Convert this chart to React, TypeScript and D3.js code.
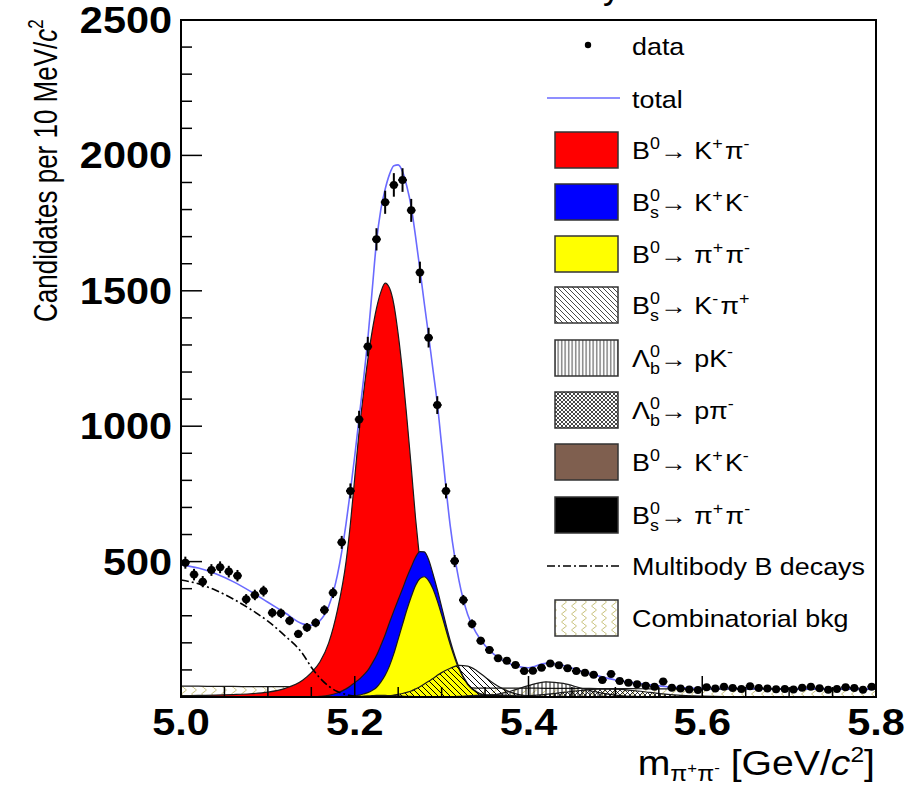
import React from 'react';
import * as d3 from 'd3';

const W = 919;
const H = 787;

// histogram: 10 MeV bins from 5.0 GeV
const binStart = 5.0;
const binWidth = 0.01;
const dataCounts = [
  496, 452, 426, 469, 479, 463, 448, 361, 377, 391,
  311, 309, 282, 233, 257, 274, 321, 385, 571, 761,
  1025, 1294, 1690, 1827, 1891, 1909, 1797, 1568, 1327, 1078,
  761, 502, 358, 270, 208, 174, 143, 134, 118, 96,
  97, 108, 124, 117, 106, 96, 90, 82, 63, 85,
  59, 53, 47, 42, 38, 57, 34, 31, 28, 26,
  36, 31, 38, 33, 30, 40, 33, 31, 29, 30,
  28, 34, 38, 32, 27, 30, 36, 33, 27, 38,
];

// mass points where the fit curves were read
const curveMass = [
  5.0, 5.02, 5.04, 5.06, 5.08, 5.1, 5.12, 5.14, 5.15, 5.16, 5.17, 5.18, 5.19,
  5.195, 5.2, 5.205, 5.21, 5.215, 5.22, 5.225, 5.23, 5.235, 5.24, 5.245, 5.25,
  5.255, 5.26, 5.265, 5.27, 5.275, 5.28, 5.285, 5.29, 5.295, 5.3,
  5.31, 5.32, 5.33, 5.34, 5.35, 5.36, 5.37, 5.38,
  5.4, 5.42, 5.44, 5.46, 5.48, 5.5, 5.52, 5.54, 5.56,
  5.6, 5.65, 5.7, 5.75, 5.8,
];
const totalFit = [
  488, 476, 455, 426, 390, 350, 310, 270, 265, 282, 335, 450, 640,
  761, 890, 1030, 1170, 1320, 1500, 1680, 1800, 1875, 1930, 1962, 1965, 1940, 1885, 1810, 1700, 1580, 1455, 1335, 1210, 1085, 930,
  630, 430, 305, 236, 190, 158, 136, 121,
  108, 124, 116, 96, 78, 63, 53, 45, 38,
  32, 31, 30, 30, 30,
];
const bKpi = [
  5, 6, 7, 9, 12, 18, 32, 62, 90, 130, 200, 320, 500,
  640, 810, 980, 1120, 1245, 1350, 1435, 1495, 1528, 1510, 1450, 1340, 1200, 1030, 850, 660, 500, 370, 265, 180, 118, 75,
  28, 9, 3, 1, 0, 0, 0, 0,
  0, 0, 0, 0, 0, 0, 0, 0, 0,
  0, 0, 0, 0, 0,
];
const bsKK = [
  0, 0, 0, 0, 0, 0, 0, 0, 0, 2, 6, 14, 28,
  38, 48, 58, 70, 82, 100, 118, 135, 150, 160, 158, 145, 132, 120, 110, 104, 100, 92, 78, 55, 42, 30,
  14, 6, 3, 1, 0, 0, 0, 0,
  0, 0, 0, 0, 0, 0, 0, 0, 0,
  0, 0, 0, 0, 0,
];
const bPiPi = [
  0, 0, 0, 0, 0, 0, 0, 0, 0, 0, 0, 1, 2,
  3, 5, 7, 11, 16, 24, 35, 55, 80, 115, 160, 214, 268, 322, 370, 412, 437, 444, 430, 400, 355, 303,
  193, 103, 46, 18, 6, 2, 1, 0,
  0, 0, 0, 0, 0, 0, 0, 0, 0,
  0, 0, 0, 0, 0,
];
const bsKpi = [
  0, 0, 0, 0, 0, 0, 0, 0, 0, 0, 0, 0, 0,
  0, 0, 0, 0, 0, 0, 0, 2, 3, 5, 7, 10, 13, 17, 22, 30, 38, 48, 58, 68, 80, 90,
  106, 117, 114, 98, 74, 50, 31, 17,
  4, 1, 0, 0, 0, 0, 0, 0, 0,
  0, 0, 0, 0, 0,
];
const lbPK = [
  0, 0, 0, 0, 0, 0, 0, 0, 0, 0, 0, 0, 0,
  0, 0, 0, 0, 0, 0, 0, 0, 0, 0, 0, 0, 0, 0, 0, 0, 0, 0, 0, 0, 0, 0,
  0, 0, 1, 2, 4, 8, 14, 22,
  42, 56, 50, 33, 17, 7, 2, 1, 0,
  0, 0, 0, 0, 0,
];
const lbPpi = [
  0, 0, 0, 0, 0, 0, 0, 0, 0, 0, 0, 0, 0,
  0, 0, 0, 0, 0, 0, 0, 0, 0, 0, 0, 0, 0, 0, 0, 0, 0, 0, 0, 0, 0, 0,
  0, 0, 0, 0, 0, 0, 0, 2,
  5, 10, 17, 24, 29, 29, 24, 17, 10,
  3, 0, 0, 0, 0,
];
const b0KK = [
  0, 0, 0, 0, 0, 0, 0, 0, 0, 0, 0, 0, 0,
  0, 1, 2, 3, 4, 5, 6, 6, 6, 5, 5, 4, 3, 2, 2, 1, 1, 0, 0, 0, 0, 0,
  0, 0, 0, 0, 0, 0, 0, 0,
  0, 0, 0, 0, 0, 0, 0, 0, 0,
  0, 0, 0, 0, 0,
];
const bsPiPi = [
  0, 0, 0, 0, 0, 0, 0, 0, 0, 0, 0, 0, 0,
  0, 0, 0, 0, 0, 0, 0, 0, 0, 0, 0, 0, 0, 0, 0, 0, 0, 0, 0, 0, 0, 0,
  1, 2, 4, 6, 8, 8, 7, 5,
  2, 1, 0, 0, 0, 0, 0, 0, 0,
  0, 0, 0, 0, 0,
];
const multiBody = [
  432, 418, 394, 362, 324, 280, 225, 160, 110, 70, 40, 20, 9,
  5, 3, 2, 1, 0, 0, 0, 0, 0, 0, 0, 0, 0, 0, 0, 0, 0, 0, 0, 0, 0, 0,
  0, 0, 0, 0, 0, 0, 0, 0,
  0, 0, 0, 0, 0, 0, 0, 0, 0,
  0, 0, 0, 0, 0,
];
const combBkg = [
  40, 40, 39, 39, 38, 38, 38, 37, 37, 37, 37, 36, 36,
  36, 36, 36, 36, 36, 35, 35, 35, 35, 35, 35, 35, 35, 35, 35, 35, 35, 34, 34, 34, 34, 34,
  34, 34, 34, 33, 33, 33, 33, 33,
  33, 32, 32, 32, 31, 31, 31, 30, 30,
  30, 29, 29, 28, 28,
];

const yMajorTicks = [0, 500, 1000, 1500, 2000, 2500];
const yTickLabels = ['', '500', '1000', '1500', '2000', '2500'];
const xMajorTicks = [5.0, 5.2, 5.4, 5.6, 5.8];
const xTickLabels = ['5.0', '5.2', '5.4', '5.6', '5.8'];

const FONT = 'Liberation Sans, Arial, Helvetica, sans-serif';
const SX = 1.12;

const PLOT = { left: 181, right: 876, top: 20, bottom: 697 };

function SText(props: any) {
  const { x, y, anchor = 'start', size, weight = 400, rotate, children, fill = '#000', sx = SX } = props;
  return (
    <g transform={`translate(${x},${y}) scale(${sx},1)${rotate ? ` rotate(${rotate})` : ''}`}>
      <text x={0} y={0} textAnchor={anchor} fontSize={size} fontWeight={weight} fontFamily={FONT} fill={fill}>
        {children}
      </text>
    </g>
  );
}

export default function App() {
  const x = d3.scaleLinear().domain([5.0, 5.8]).range([PLOT.left, PLOT.right]);
  const y = d3.scaleLinear().domain([0, 2500]).range([PLOT.bottom, PLOT.top]);

  const pts = (vals: number[]) => curveMass.map((m, i) => [m, vals[i]] as [number, number]);
  const area = d3
    .area<[number, number]>()
    .x((d) => x(d[0]))
    .y0(y(0))
    .y1((d) => y(d[1]))
    .curve(d3.curveMonotoneX);
  const line = d3
    .line<[number, number]>()
    .x((d) => x(d[0]))
    .y((d) => y(d[1]))
    .curve(d3.curveMonotoneX);

  const blueVals = bPiPi.map((v, i) => v + bsKK[i]);
  const lastMulti = multiBody.findIndex((v) => v === 0);
  const multiPts = pts(multiBody).slice(0, lastMulti + 1);

  const yMinor = d3.range(0, 2501, 100);
  const xMinor = d3.range(0, 17).map((i) => 5.0 + i * 0.05);

  const bins = dataCounts.map((n, i) => ({ m: binStart + binWidth * (i + 0.5), n }));
  const halfBin = (x(binStart + binWidth) - x(binStart)) / 2;

  const outline = '#1a1a1a';

  const comps: { vals: number[]; fill: string }[] = [
    { vals: combBkg, fill: 'url(#wavy)' },
    { vals: bKpi, fill: '#ff0000' },
    { vals: blueVals, fill: '#0000ff' },
    { vals: bPiPi, fill: '#ffff00' },
    { vals: bsKpi, fill: 'url(#diag)' },
    { vals: lbPK, fill: 'url(#vert)' },
    { vals: lbPpi, fill: 'url(#cross)' },
    { vals: b0KK, fill: '#7f5f4f' },
    { vals: bsPiPi, fill: '#000000' },
  ];

  // legend
  const lgBoxX = 555;
  const lgBoxW = 63;
  const lgBoxH = 36;
  const lgTextX = 632;
  const lgY = [45, 98, 150, 202, 254, 305, 358, 410, 462, 515, 566, 618];
  const sup = 16;
  const base = 24;

  const B0 = (
    <>
      B<tspan fontSize={sup} dy={-10}>0</tspan>
      <tspan dy={10}>{'\u2192 '}</tspan>
    </>
  );
  const Bs = (
    <>
      B<tspan fontSize={sup} dy={-10}>0</tspan>
      <tspan fontSize={sup} dx={-8.9} dy={17}>s</tspan>
      <tspan dx={1} dy={-7}>{'\u2192 '}</tspan>
    </>
  );
  const Lb = (
    <>
      {'\u039B'}<tspan fontSize={sup} dy={-10}>0</tspan>
      <tspan fontSize={sup} dx={-8.9} dy={17}>b</tspan>
      <tspan dy={-7}>{'\u2192 '}</tspan>
    </>
  );
  const supT = (s: string) => (
    <>
      <tspan fontSize={sup} dy={-10}>{s}</tspan>
      <tspan dy={10}>{'\u200A'}</tspan>
    </>
  );

  const legendBoxes: { fill: string; label: React.ReactNode }[] = [
    { fill: '#ff0000', label: <>{B0}K{supT('+')}{'\u03C0'}{supT('-')}</> },
    { fill: '#0000ff', label: <>{Bs}K{supT('+')}K{supT('-')}</> },
    { fill: '#ffff00', label: <>{B0}{'\u03C0'}{supT('+')}{'\u03C0'}{supT('-')}</> },
    { fill: 'url(#diagL)', label: <>{Bs}K{supT('-')}{'\u03C0'}{supT('+')}</> },
    { fill: 'url(#vertL)', label: <>{Lb}pK{supT('-')}</> },
    { fill: 'url(#crossL)', label: <>{Lb}p{'\u03C0'}{supT('-')}</> },
    { fill: '#7f5f4f', label: <>{B0}K{supT('+')}K{supT('-')}</> },
    { fill: '#000000', label: <>{Bs}{'\u03C0'}{supT('+')}{'\u03C0'}{supT('-')}</> },
  ];

  return (
    <svg width={W} height={H} style={{ position: 'absolute', left: 0, top: 0, background: '#fff' }}>
      <defs>
        <clipPath id="plotClip">
          <rect x={PLOT.left} y={PLOT.top} width={PLOT.right - PLOT.left} height={PLOT.bottom - PLOT.top} />
        </clipPath>
        <pattern id="diag" patternUnits="userSpaceOnUse" width={6} height={6}>
          <path d="M0,0 L6,6 M-1,5 L1,7 M5,-1 L7,1" stroke="#000" strokeWidth={1} />
        </pattern>
        <pattern id="vert" patternUnits="userSpaceOnUse" width={4} height={4}>
          <path d="M2,0 L2,4" stroke="#000" strokeWidth={0.9} />
        </pattern>
        <pattern id="cross" patternUnits="userSpaceOnUse" width={5} height={5}>
          <path d="M0,0 L5,5 M-1,4 L1,6 M4,-1 L6,1 M5,0 L0,5 M-1,1 L1,-1 M4,6 L6,4" stroke="#000" strokeWidth={0.8} />
        </pattern>
        <pattern id="wavy" patternUnits="userSpaceOnUse" width={10} height={8}>
          <path d="M4,0 C7,2 7,2 4,4 C1,6 1,6 4,8" stroke="#c4bd72" strokeWidth={1} fill="none" />
        </pattern>
        <pattern id="diagL" patternUnits="userSpaceOnUse" width={5} height={5}>
          <rect width={5} height={5} fill="#fff" />
          <path d="M0,0 L5,5 M-1,4 L1,6 M4,-1 L6,1" stroke="#333" strokeWidth={0.9} />
        </pattern>
        <pattern id="vertL" patternUnits="userSpaceOnUse" width={3.5} height={4}>
          <rect width={3.5} height={4} fill="#fff" />
          <path d="M1.7,0 L1.7,4" stroke="#333" strokeWidth={0.9} />
        </pattern>
        <pattern id="crossL" patternUnits="userSpaceOnUse" width={4} height={4}>
          <rect width={4} height={4} fill="#fff" />
          <path d="M0,0 L4,4 M4,0 L0,4" stroke="#333" strokeWidth={0.9} />
        </pattern>
        <pattern id="wavyL" patternUnits="userSpaceOnUse" width={10} height={8}>
          <rect width={10} height={8} fill="#fff" />
          <path d="M4,0 C7,2 7,2 4,4 C1,6 1,6 4,8" stroke="#c4bd72" strokeWidth={1} fill="none" />
        </pattern>
      </defs>

      {/* cut-off title above the frame */}
      <text x={621} y={-2} textAnchor="end" fontSize={36} fontFamily={FONT}>LHCb Preliminary</text>

      <g clipPath="url(#plotClip)">
        {comps.map((c, i) => (
          <g key={i}>
            <path d={area(pts(c.vals)) || ''} fill={c.fill} stroke="none" />
            <path d={line(pts(c.vals)) || ''} fill="none" stroke={outline} strokeWidth={1.2} />
          </g>
        ))}
        <path
          d={line(multiPts) || ''}
          fill="none"
          stroke="#000"
          strokeWidth={1.6}
          strokeDasharray="8,3,2,3"
        />
        <path d={line(pts(totalFit)) || ''} fill="none" stroke="#6a6aff" strokeWidth={1.6} />
        {bins.map((b, i) => {
          const cx = x(b.m);
          const cy = y(b.n);
          const e = Math.sqrt(b.n);
          return (
            <g key={i}>
              <line x1={cx} x2={cx} y1={y(b.n + e)} y2={y(b.n - e)} stroke="#000" strokeWidth={2} />
              <line x1={cx - halfBin} x2={cx + halfBin} y1={cy} y2={cy} stroke="#000" strokeWidth={2} />
              <circle cx={cx} cy={cy} r={4} fill="#000" />
            </g>
          );
        })}
      </g>

      {/* frame */}
      <rect
        x={PLOT.left}
        y={PLOT.top}
        width={PLOT.right - PLOT.left}
        height={PLOT.bottom - PLOT.top}
        fill="none"
        stroke="#000"
        strokeWidth={2}
      />

      {/* y ticks */}
      {yMinor.map((v) => {
        const major = v % 500 === 0;
        return (
          <line
            key={`yt${v}`}
            x1={PLOT.left}
            x2={PLOT.left + (major ? 21 : 11)}
            y1={y(v)}
            y2={y(v)}
            stroke="#000"
            strokeWidth={1.5}
          />
        );
      })}
      {yMajorTicks.map((v, i) =>
        yTickLabels[i] ? (
          <SText key={`yl${v}`} x={172} y={y(v) + 13} anchor="end" size={37} weight={700}>
            {yTickLabels[i]}
          </SText>
        ) : null
      )}

      {/* x ticks */}
      {xMinor.map((v, i) => {
        const major = i % 4 === 0;
        return (
          <line
            key={`xt${i}`}
            x1={x(v)}
            x2={x(v)}
            y1={PLOT.bottom}
            y2={PLOT.bottom - (major ? 21 : 10)}
            stroke="#000"
            strokeWidth={1.5}
          />
        );
      })}
      {xMajorTicks.map((v, i) => (
        <SText key={`xl${v}`} x={x(v)} y={735} anchor="middle" size={37} weight={700}>
          {xTickLabels[i]}
        </SText>
      ))}

      {/* axis titles */}
      <SText x={57} y={322} rotate={-90} size={26} sx={1.27}>
        Candidates per 10 MeV/<tspan fontStyle="italic">c</tspan>
        <tspan fontSize={17} dy={-11}>2</tspan>
      </SText>
      <SText x={875} y={775} anchor="end" size={35}>
        m<tspan fontSize={22} dy={6}>{'\u03C0'}</tspan>
        <tspan fontSize={15} dy={-8}>+</tspan>
        <tspan fontSize={22} dy={8}>{'\u03C0'}</tspan>
        <tspan fontSize={15} dy={-8}>-</tspan>
        <tspan fontSize={35} dy={2}> [GeV/</tspan>
        <tspan fontStyle="italic">c</tspan>
        <tspan fontSize={22} dy={-13}>2</tspan>
        <tspan fontSize={35} dy={13}>]</tspan>
      </SText>

      {/* legend */}
      <circle cx={588} cy={lgY[0]} r={3.2} fill="#000" />
      <SText x={lgTextX} y={lgY[0] + 10} size={base}>data</SText>
      <line x1={lgBoxX - 8} x2={lgBoxX + lgBoxW + 2} y1={lgY[1]} y2={lgY[1]} stroke="#6a6aff" strokeWidth={1.6} />
      <SText x={lgTextX} y={lgY[1] + 10} size={base}>total</SText>
      {legendBoxes.map((lb, i) => (
        <g key={`lg${i}`}>
          <rect
            x={lgBoxX}
            y={lgY[i + 2] - lgBoxH / 2}
            width={lgBoxW}
            height={lgBoxH}
            fill={lb.fill}
            stroke="#333"
            strokeWidth={1.5}
          />
          <SText x={lgTextX} y={lgY[i + 2] + 9} size={base}>
            {lb.label}
          </SText>
        </g>
      ))}
      <line
        x1={lgBoxX - 8}
        x2={lgBoxX + lgBoxW + 2}
        y1={lgY[10]}
        y2={lgY[10]}
        stroke="#000"
        strokeWidth={1.6}
        strokeDasharray="8,3,2,3"
      />
      <SText x={lgTextX} y={lgY[10] + 9} size={base}>Multibody B decays</SText>
      <rect
        x={lgBoxX}
        y={lgY[11] - lgBoxH / 2}
        width={lgBoxW}
        height={lgBoxH}
        fill="url(#wavyL)"
        stroke="#333"
        strokeWidth={1.5}
      />
      <SText x={lgTextX} y={lgY[11] + 9} size={base}>Combinatorial bkg</SText>
    </svg>
  );
}
